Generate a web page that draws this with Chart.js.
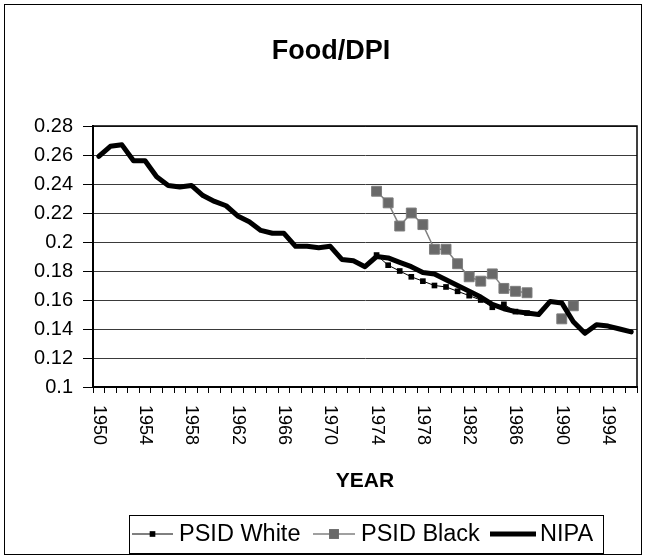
<!DOCTYPE html>
<html>
<head>
<meta charset="utf-8">
<script src="https://cdn.jsdelivr.net/npm/chart.js@4.4.0/dist/chart.umd.min.js"></script>
<style>
  html, body { margin: 0; padding: 0; background: #fff; }
  canvas { display: block; }
</style>
</head>
<body>
<canvas id="foodChart" width="646" height="558"></canvas>
<script>
// --- data ---
const years = ['1950','1951','1952','1953','1954','1955','1956','1957','1958','1959',
  '1960','1961','1962','1963','1964','1965','1966','1967','1968','1969',
  '1970','1971','1972','1973','1974','1975','1976','1977','1978','1979',
  '1980','1981','1982','1983','1984','1985','1986','1987','1988','1989',
  '1990','1991','1992','1993','1994','1995','1996'];

const nipa = [0.259, 0.266, 0.267, 0.256, 0.256, 0.245, 0.239, 0.238, 0.239, 0.232,
  0.228, 0.225, 0.218, 0.214, 0.208, 0.206, 0.206, 0.197, 0.197, 0.196,
  0.197, 0.188, 0.187, 0.183, 0.190, 0.189, 0.186, 0.183, 0.179, 0.178,
  0.174, 0.170, 0.166, 0.162, 0.157, 0.154, 0.152, 0.151, 0.150, 0.159,
  0.158, 0.145, 0.137, 0.143, 0.142, 0.140, 0.138];

const whiteYears = ['1974','1975','1976','1977','1978','1979','1980','1981','1982','1983','1984','1985','1986','1987'];
const psidWhite = [0.191, 0.184, 0.180, 0.176, 0.173, 0.170, 0.169, 0.166, 0.163, 0.160, 0.155, 0.157, 0.152, 0.151];

const blackYears = ['1974','1975','1976','1977','1978','1979','1980','1981','1982','1983','1984','1985','1986','1987','1988','1989','1990','1991'];
const psidBlack = [0.235, 0.227, 0.211, 0.220, 0.212, 0.195, 0.195, 0.185, 0.176, 0.173, 0.178, 0.168, 0.166, 0.165, null, null, 0.147, 0.156];

const xTickLabels = ['1950','1954','1958','1962','1966','1970','1974','1978','1982','1986','1990','1994'];

const FONT = "'Liberation Sans', Arial, sans-serif";

// draws the parts Excel had that Chart.js does not: frame, rotated year labels, titles, boxed legend
const excelBits = {
    id: 'excelBits',
    beforeDraw(chart) {
        const ctx = chart.ctx;
        ctx.save();
        ctx.fillStyle = '#fff';
        ctx.fillRect(0, 0, chart.width, chart.height);
        ctx.restore();
    },
    afterDraw(chart) {
        const ctx = chart.ctx;
        const area = chart.chartArea;
        const xs = chart.scales.x;
        ctx.save();

        // plot border
        ctx.strokeStyle = '#000';
        ctx.lineWidth = 1.5;
        ctx.strokeRect(area.left, area.top, area.right - area.left, area.bottom - area.top);

        // year labels, reading downwards
        ctx.fillStyle = '#000';
        ctx.font = '18px ' + FONT;
        ctx.textAlign = 'left';
        ctx.textBaseline = 'middle';
        xTickLabels.forEach(lbl => {
            const x = xs.getPixelForValue(years.indexOf(lbl));
            ctx.save();
            ctx.translate(x, area.bottom + 18);
            ctx.rotate(Math.PI / 2);
            ctx.fillText(lbl, 0, 0);
            ctx.restore();
        });

        // axis title + chart title
        ctx.textAlign = 'center';
        ctx.font = 'bold 21px ' + FONT;
        ctx.fillText('YEAR', (area.left + area.right) / 2, 481);
        ctx.font = 'bold 27px ' + FONT;
        ctx.fillText('Food/DPI', 331, 52);

        // legend
        const lg = { left: 129, top: 515, right: 603, bottom: 553 };
        ctx.lineWidth = 1;
        ctx.strokeStyle = '#000';
        ctx.strokeRect(lg.left + 0.5, lg.top + 0.5, lg.right - lg.left, lg.bottom - lg.top);
        const ly = (lg.top + lg.bottom) / 2;
        const items = [
            { ds: chart.data.datasets[0], x0: 132, x1: 173, tx: 179 },
            { ds: chart.data.datasets[1], x0: 313, x1: 355, tx: 361 },
            { ds: chart.data.datasets[2], x0: 490, x1: 536, tx: 540 }
        ];
        ctx.font = '23.5px ' + FONT;
        ctx.textAlign = 'left';
        items.forEach(it => {
            ctx.strokeStyle = it.ds.borderColor;
            ctx.lineWidth = it.ds.borderWidth;
            ctx.beginPath();
            ctx.moveTo(it.x0, ly);
            ctx.lineTo(it.x1, ly);
            ctx.stroke();
            if (it.ds.pointRadius) {
                const s = it.ds.pointRadius * Math.SQRT2;
                const cx = (it.x0 + it.x1) / 2;
                ctx.fillStyle = it.ds.pointBackgroundColor;
                ctx.fillRect(cx - s / 2, ly - s / 2, s, s);
            }
            ctx.fillStyle = '#000';
            ctx.fillText(it.ds.label, it.tx, ly + 1);
        });

        // chart frame
        ctx.strokeStyle = '#000';
        ctx.lineWidth = 1;
        ctx.strokeRect(4.5, 4.5, 637, 550);
        ctx.restore();
    }
};

new Chart(document.getElementById('foodChart'), {
    type: 'line',
    data: {
        labels: years,
        datasets: [
            {
                label: 'PSID White',
                data: whiteYears.map((y, i) => ({ x: y, y: psidWhite[i] })),
                borderColor: '#000',
                borderWidth: 1,
                pointStyle: 'rect',
                pointRadius: 4,
                pointBackgroundColor: '#000',
                pointBorderColor: '#000',
                pointBorderWidth: 0,
                order: 2
            },
            {
                label: 'PSID Black',
                data: blackYears.map((y, i) => ({ x: y, y: psidBlack[i] })),
                borderColor: '#808080',
                borderWidth: 1.5,
                pointStyle: 'rect',
                pointRadius: 7,
                pointBackgroundColor: '#696969',
                pointBorderColor: '#7d7d7d',
                pointBorderWidth: 1,
                spanGaps: false,
                order: 1
            },
            {
                label: 'NIPA',
                data: nipa,
                borderColor: '#000',
                borderWidth: 5,
                pointRadius: 0,
                borderJoinStyle: 'round',
                borderCapStyle: 'round',
                order: 0
            }
        ]
    },
    options: {
        responsive: false,
        animation: false,
        events: [],
        layout: { padding: { top: 126, right: 9, bottom: 0, left: 0 } },
        plugins: {
            legend: { display: false },
            title: { display: false },
            tooltip: { enabled: false }
        },
        scales: {
            x: {
                type: 'category',
                offset: true,
                afterFit: s => { s.height = 171; },
                grid: { offset: true, drawOnChartArea: false, drawTicks: true, tickLength: 6, tickColor: '#000', color: '#000' },
                border: { display: true, color: '#000', width: 2 },
                ticks: { display: false, autoSkip: false }
            },
            y: {
                min: 0.1,
                max: 0.28,
                afterFit: s => { s.width = 93; },
                grid: { color: '#3a3a3a', lineWidth: 1, tickLength: 10, tickColor: '#000' },
                border: { display: true, color: '#000', width: 2 },
                ticks: {
                    stepSize: 0.02,
                    padding: 10,
                    color: '#000',
                    font: { family: FONT, size: 20 },
                    callback: v => String(parseFloat(v.toFixed(2)))
                }
            }
        }
    },
    plugins: [excelBits]
});
</script>
</body>
</html>
